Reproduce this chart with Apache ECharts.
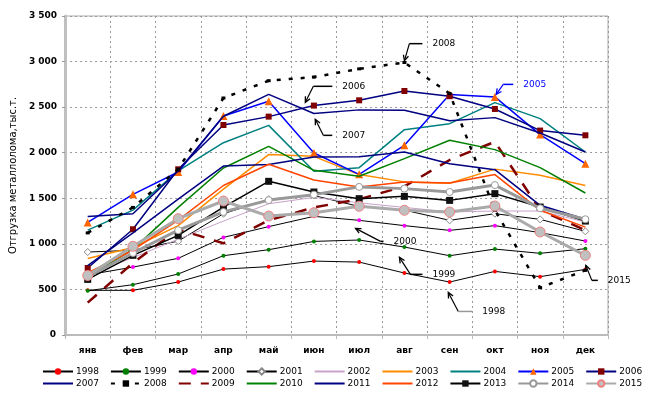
<!DOCTYPE html>
<html>
<head>
<meta charset="utf-8">
<script src="https://cdn.jsdelivr.net/npm/echarts@6/dist/echarts.min.js"></script>
<style>html,body{margin:0;padding:0;background:#fff}#c{width:650px;height:393px}</style>
</head>
<body>
<div id="c"></div>
<script>
const months = ['янв','фев','мар','апр','май','июн','июл','авг','сен','окт','ноя','дек'];
const years = ['1998','1999','2000','2001','2002','2003','2004','2005','2006','2007','2008','2009','2010','2011','2012','2013','2014','2015'];
const yTicks = [0,500,1000,1500,2000,2500,3000,3500];

const s1998 = [490, 490, 581, 723, 750, 811, 800, 680, 581, 698, 640, 720];
const s1999 = [486, 552, 669, 870, 936, 1027, 1042, 965, 870, 943, 896, 947];
const s2000 = [660, 745, 841, 1071, 1189, 1302, 1258, 1200, 1148, 1200, 1123, 1031];
const s2001 = [910, 930, 1030, 1330, 1490, 1530, 1410, 1370, 1258, 1331, 1269, 1137];
const s2002 = [650, 850, 1050, 1250, 1440, 1510, 1450, 1400, 1350, 1360, 1360, 1240];
const s2003 = [840, 960, 1200, 1600, 1980, 1960, 1760, 1680, 1665, 1820, 1752, 1640];
const s2004 = [1150, 1370, 1800, 2110, 2300, 1796, 1836, 2253, 2319, 2550, 2374, 2008];
const s2005 = [1235, 1543, 1788, 2403, 2564, 1997, 1763, 2081, 2638, 2612, 2199, 1880];
const s2006 = [735, 1160, 1818, 2304, 2396, 2517, 2575, 2677, 2620, 2480, 2243, 2191];
const s2007 = [1300, 1330, 1800, 2400, 2640, 2430, 2470, 2465, 2350, 2385, 2216, 2008];
const s2008 = [1120, 1400, 1820, 2600, 2790, 2830, 2920, 2990, 2650, 1370, 520, 710];
const s2009 = [355, 790, 1160, 1006, 1258, 1400, 1490, 1630, 1920, 2120, 1370, 1150];
const s2010 = [640, 940, 1400, 1832, 2070, 1807, 1741, 1935, 2136, 2034, 1836, 1558];
const s2011 = [760, 1120, 1490, 1854, 1870, 1953, 1955, 2008, 1880, 1814, 1423, 1269];
const s2012 = [680, 930, 1260, 1640, 1873, 1700, 1623, 1678, 1667, 1760, 1368, 1184];
const s2013 = [610, 874, 1093, 1404, 1686, 1569, 1496, 1521, 1477, 1551, 1404, 1250];
const s2014 = [640, 900, 1150, 1350, 1480, 1540, 1625, 1606, 1569, 1645, 1390, 1270];
const s2015 = [653, 973, 1276, 1470, 1305, 1342, 1412, 1368, 1349, 1415, 1130, 874];

const seriesData = [s1998,s1999,s2000,s2001,s2002,s2003,s2004,s2005,s2006,s2007,s2008,s2009,s2010,s2011,s2012,s2013,s2014,s2015];

// annotation labels: text, pointed category index & value
const annTexts = ['2008','2006','2007','2005','2000','1999','1998','2015'];
const annCats  = [7, 4.81, 5.03, 9.03, 5.92, 6.89, 7.97, 11.01];
const annVals  = [3010, 2553, 2366, 2640, 1170, 852, 467, 764];

const F = 'DejaVu Sans';
const styles = {
  '1998': {c:'#000', w:1, sym:'circle', ss:4, mc:'#ff0000'},
  '1999': {c:'#000', w:1, sym:'circle', ss:4, mc:'#008000'},
  '2000': {c:'#000', w:1, sym:'circle', ss:4, mc:'#ff00ff'},
  '2001': {c:'#000', w:1, sym:'diamond', ss:7, mc:'#fff', mb:'#888'},
  '2002': {c:'#c8a2c8', w:1, sym:'none'},
  '2003': {c:'#ff8c00', w:1.5, sym:'none'},
  '2004': {c:'#008080', w:1.5, sym:'none'},
  '2005': {c:'#0000ff', w:1.5, sym:'triangle', ss:8, mc:'#ff6600'},
  '2006': {c:'#000080', w:1.5, sym:'rect', ss:6, mc:'#800000'},
  '2007': {c:'#000080', w:1.5, sym:'none'},
  '2008': {c:'#000', w:2.5, sym:'rect', ss:[4,3], mc:'#000', dash:[4,8]},
  '2009': {c:'#800000', w:2.5, sym:'none', dash:[12,10]},
  '2010': {c:'#008000', w:1.5, sym:'none'},
  '2011': {c:'#000080', w:1.5, sym:'none'},
  '2012': {c:'#ff4500', w:1.5, sym:'none'},
  '2013': {c:'#000', w:1.5, sym:'rect', ss:7, mc:'#111'},
  '2014': {c:'#999', w:3, sym:'circle', ss:7, mc:'#fff', mb:'#999'},
  '2015': {c:'#aaa', w:3, sym:'circle', ss:10, mc:'#c0c0c0', mb:'#f08080'}
};

const series = years.map((y, i) => {
  const st = styles[y];
  return {
    name: y, type: 'line', data: seriesData[i],
    symbol: st.sym, symbolSize: st.ss || 4, showSymbol: st.sym !== 'none',
    lineStyle: {color: st.c, width: st.w, type: st.dash || 'solid'},
    itemStyle: {color: st.mc || st.c, borderColor: st.mb || st.mc || st.c, borderWidth: st.mb ? 1 : 0},
    color: st.c,
    emphasis: {disabled: true}, animation: false, z: 2 + i
  };
});

const legendItems = ys => ys.map(y => styles[y].sym === 'none'
  ? {name: y, itemStyle: {opacity: 0}}
  : {name: y});

const fmt = v => v >= 1000 ? Math.floor(v/1000) + ' ' + String(v % 1000).padStart(3, '0') : String(v);

const legendCommon = {
  itemWidth: 30, itemHeight: 8, itemGap: 11,
  textStyle: {fontFamily: F, fontSize: 9, color: '#000', padding: [0,0,0,-2]},
  selectedMode: false
};

const chart = echarts.init(document.getElementById('c'), null, {renderer: 'canvas'});
chart.setOption({
  animation: false,
  backgroundColor: '#fff',
  grid: {left: 63, right: 42, top: 16, bottom: 58, show: true, borderColor: '#aaa', borderWidth: 1},
  xAxis: {
    type: 'category', data: months, boundaryGap: true,
    axisLine: {lineStyle: {color: '#bbb', width: 2}},
    axisTick: {show: true, length: 4, lineStyle: {color: '#bbb'}},
    axisLabel: {fontFamily: F, fontWeight: 'bold', fontSize: 9, color: '#000', margin: 11},
    splitLine: {show: true, lineStyle: {type: [2,3], color: '#999'}}
  },
  yAxis: {
    type: 'value', min: yTicks[0], max: yTicks[yTicks.length-1], interval: 500,
    axisLine: {show: true, lineStyle: {color: '#c0c0c0', width: 3}},
    axisTick: {show: true, length: 3, lineStyle: {color: '#999'}},
    // the minimum label is drawn below as a graphic text (the library suppresses it here)
    axisLabel: {fontFamily: F, fontWeight: 'bold', fontSize: 9, color: '#000',
                formatter: v => v === yTicks[0] ? '' : fmt(v), margin: 8},
    splitLine: {show: true, lineStyle: {type: [2,3], color: '#999'}},
    name: 'Отгрузка металлолома,тыс.т.', nameLocation: 'middle', nameRotate: 90, nameGap: 46,
    nameTextStyle: {fontFamily: F, fontSize: 10, color: '#000'}
  },
  legend: [
    Object.assign({}, legendCommon, {data: legendItems(years.slice(0, 9)), left: 37, top: 362}),
    Object.assign({}, legendCommon, {data: legendItems(years.slice(9)), left: 37, top: 374})
  ],
  series: series
});

// annotations with arrows, anchored to data coordinates
function px(cat, val) {
  const a = chart.convertToPixel({seriesIndex: 0}, [0, val]);
  const b = chart.convertToPixel({seriesIndex: 0}, [1, val]);
  return [a[0] + (b[0] - a[0]) * cat, a[1]];
}
const annOffsets = [
  {e:[5,-17], t:[13,0], c:'#000'}, {e:[8,-16], t:[19,0], c:'#000'}, {e:[8,16], t:[9,0], c:'#000'},
  {e:[7,-10], t:[10,0], c:'#0000ff'}, {e:[25,13], t:[3,0], c:'#000'}, {e:[11,17], t:[12,0], c:'#000'},
  {e:[10,19], t:[14,0], c:'#000', tc:'#999'}, {e:[6,15], t:[6,0], c:'#000'}
];
const gr = [];
annTexts.forEach((txt, i) => {
  const o = annOffsets[i];
  const tip = px(annCats[i], annVals[i]);
  const el = [tip[0] + o.e[0], tip[1] + o.e[1]];
  const tl = [el[0] + o.t[0], el[1] + o.t[1]];
  gr.push({type: 'polyline', shape: {points: [tip, el]}, style: {stroke: o.c, lineWidth: 1.2, fill: null}, z: 100});
  gr.push({type: 'polyline', shape: {points: [el, tl]}, style: {stroke: o.tc || o.c, lineWidth: 1.5, fill: null}, z: 100});
  const ang = Math.atan2(el[1] - tip[1], el[0] - tip[0]);
  const L = 6, sp = 0.45;
  const p1 = [tip[0] + L * Math.cos(ang + sp), tip[1] + L * Math.sin(ang + sp)];
  const p2 = [tip[0] + L * Math.cos(ang - sp), tip[1] + L * Math.sin(ang - sp)];
  gr.push({type: 'polyline', shape: {points: [p1, tip, p2]}, style: {stroke: o.c, lineWidth: 1.3, fill: null}, z: 100});
  gr.push({type: 'text', x: tl[0] + 10, y: tl[1], style: {text: txt, fill: o.c === '#0000ff' ? '#0000ff' : '#000', font: '9px "DejaVu Sans"', verticalAlign: 'middle'}, z: 100});
});

// zero tick label at the axis' zero position
const z0 = px(-0.5, yTicks[0]);
gr.push({type: 'text', x: z0[0] - 9, y: z0[1], style: {text: fmt(yTicks[0]), fill: '#000',
  font: 'bold 9px "DejaVu Sans"', align: 'right', verticalAlign: 'middle'}, z: 100});
chart.setOption({graphic: gr});
</script>
</body>
</html>
